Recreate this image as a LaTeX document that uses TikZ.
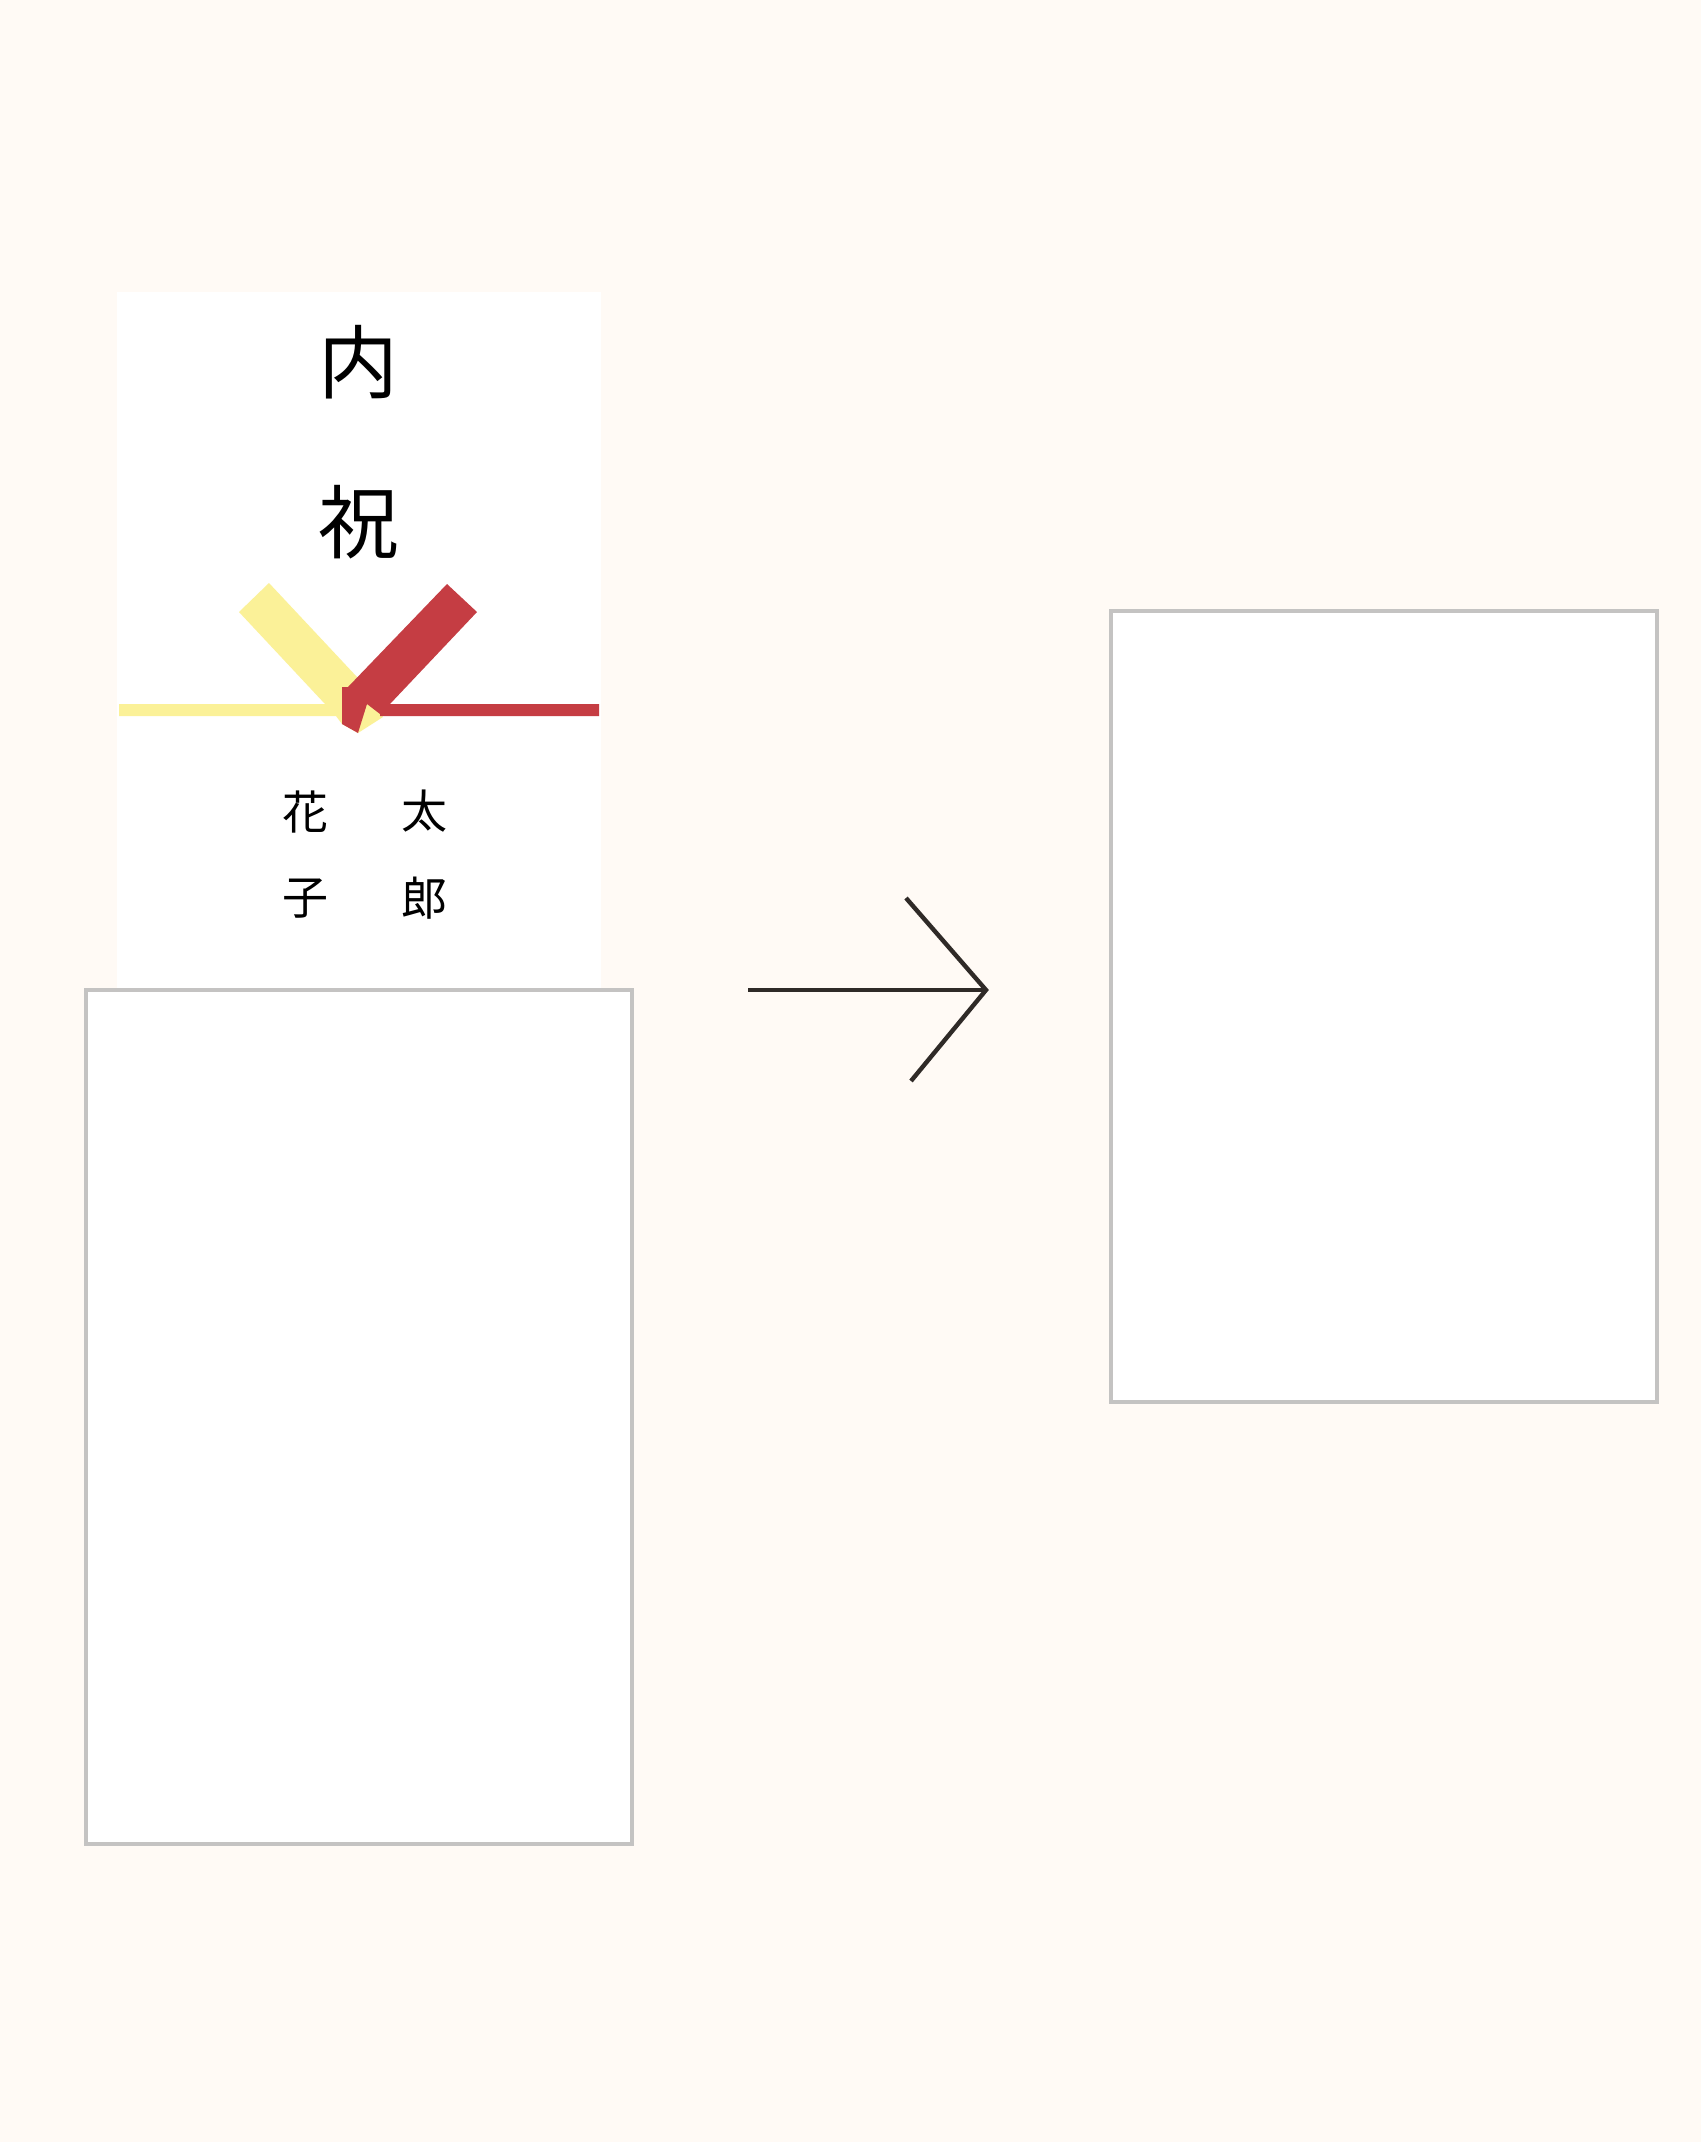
\documentclass[tikz,border=0pt]{standalone}
\usepackage{fontspec}
\newfontfamily\cjk{Noto Sans CJK JP}
\definecolor{paperbg}{HTML}{FFFAF5}
\definecolor{framegray}{HTML}{C4C3C2}
\definecolor{cordyellow}{HTML}{FBF198}
\definecolor{cordred}{HTML}{C53D43}
\definecolor{arrowdark}{HTML}{2F2A27}
\tikzset{
  envelope/.style={draw=framegray, line width=2pt, fill=white},
  bigchar/.style={inner sep=0pt, font=\cjk\fontsize{40}{40}\selectfont},
  smallchar/.style={inner sep=0pt, font=\cjk\fontsize{23}{23}\selectfont},
  arrowline/.style={draw=arrowdark, line width=2.2pt}
}
\begin{document}
\begin{tikzpicture}[x=0.5pt, y=-0.5pt]
                  % Background
                  \fill[paperbg] (0,0) rectangle (1701,2142);
                  \useasboundingbox (0,0) rectangle (1701,2142);

                  % Card and envelopes
                  \fill[white] (117,292) rectangle (601,990);
                  \draw[envelope] (86,990) rectangle (632,1844);
                  \draw[envelope] (1111,611) rectangle (1657,1402);

                  % Cords
                  \fill[cordyellow] (269,583) -- (357,677) -- (383,717) -- (358,733) -- (342,724) -- (336,716)
                      -- (119,716) -- (119,704) -- (325,704) -- (239,612) -- cycle;
                  \fill[cordred] (447,584) -- (477,612) -- (390,704) -- (599,704) -- (599,716) -- (380,716)
                      -- (380,714) -- (367,704) -- (358,733) -- (342,724) -- (342,687) -- (348,687) -- cycle;

                  % Labels
                  \node[bigchar] (uchi) at (358,362) {内};
                  \node[bigchar] (iwai) at (358,522) {祝};
                  \node[smallchar] (hana) at (305,812) {花};
                  \node[smallchar] (ko) at (305,899) {子};
                  \node[smallchar] (ta) at (424,811) {太};
                  \node[smallchar] (ro) at (424,898) {郎};

                  % Arrow
                  \coordinate (tail) at (748,990);
                  \coordinate (tip) at (986,990);
                  \coordinate (barbup) at (906,898);
                  \coordinate (barbdown) at (911,1081);
                  \draw[arrowline] (tail) -- (tip);
                  \draw[arrowline, line join=miter] (barbup) -- (tip) -- (barbdown);
              \end{tikzpicture}
\end{document}
